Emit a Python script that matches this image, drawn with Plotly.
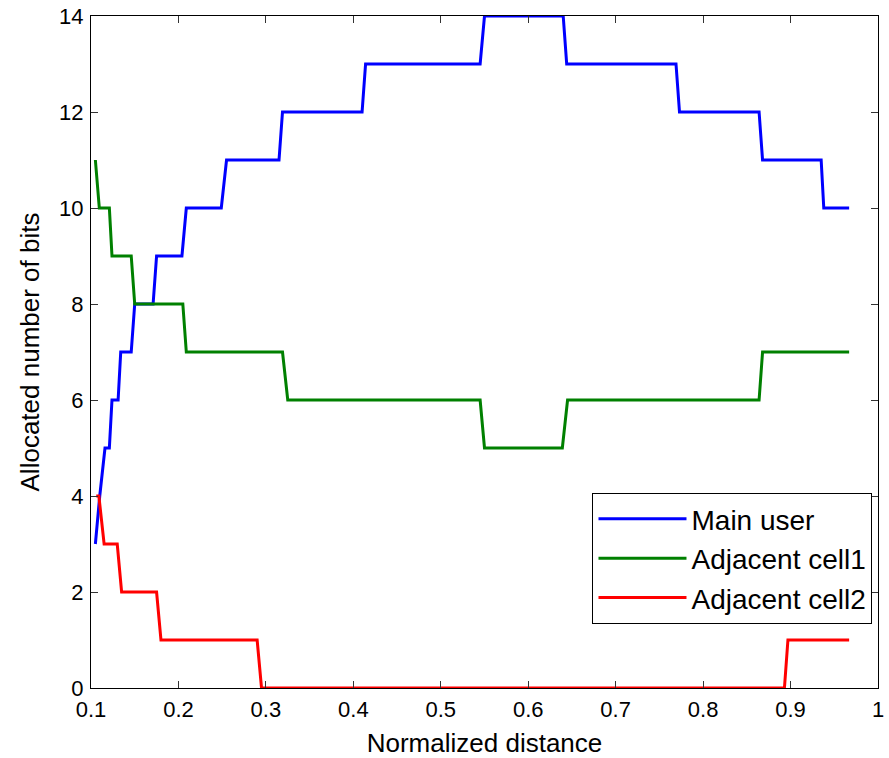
import plotly.graph_objects as go

# Step vertices
main_x = [0.105, 0.110, 0.116, 0.121, 0.124, 0.131, 0.134, 0.146, 0.150, 0.171,
          0.175, 0.204, 0.209, 0.249, 0.255, 0.315, 0.319, 0.410, 0.414, 0.545,
          0.550, 0.640, 0.644, 0.769, 0.773, 0.864, 0.868, 0.935, 0.938, 0.967]
main_y = [3, 4, 5, 5, 6, 6, 7, 7, 8, 8,
          9, 9, 10, 10, 11, 11, 12, 12, 13, 13,
          14, 14, 13, 13, 12, 12, 11, 11, 10, 10]

adj1_x = [0.105, 0.1095, 0.121, 0.124, 0.146, 0.150, 0.205, 0.209, 0.319, 0.325,
          0.545, 0.550, 0.639, 0.645, 0.864, 0.868, 0.967]
adj1_y = [11, 10, 10, 9, 9, 8, 8, 7, 7, 6,
          6, 5, 5, 6, 6, 7, 7]

adj2_x = [0.106, 0.109, 0.115, 0.130, 0.135, 0.175, 0.180, 0.290, 0.295, 0.893,
          0.897, 0.967]
adj2_y = [4, 4, 3, 3, 2, 2, 1, 1, 0, 0,
          1, 1]

x_tickvals = [0.1, 0.2, 0.3, 0.4, 0.5, 0.6, 0.7, 0.8, 0.9, 1.0]
x_ticktext = ["0.1", "0.2", "0.3", "0.4", "0.5", "0.6", "0.7", "0.8", "0.9", "1"]
y_tickvals = [0, 2, 4, 6, 8, 10, 12, 14]

FONT = "Liberation Sans, Arial, sans-serif"

fig = go.Figure()
for name, xs, ys, col in [("Main user", main_x, main_y, "#0000FF"),
                          ("Adjacent cell1", adj1_x, adj1_y, "#008000"),
                          ("Adjacent cell2", adj2_x, adj2_y, "#FF0000")]:
    fig.add_trace(go.Scatter(x=xs, y=ys, mode="lines", name=name,
                             line=dict(color=col, width=3),
                             cliponaxis=False))

axis_common = dict(
    showgrid=False, zeroline=False, showline=True, linecolor="black",
    linewidth=1, mirror="ticks", ticks="inside", ticklen=7,
    tickcolor="#333333", tickwidth=1, automargin=False,
    tickfont=dict(family=FONT, size=22, color="black"),
)

fig.update_xaxes(range=[0.1, 1.0], tickvals=x_tickvals, ticktext=x_ticktext,
                 ticklabelstandoff=2,
                 title=dict(text="Normalized distance",
                            font=dict(family=FONT, size=26, color="black"),
                            standoff=12),
                 **axis_common)
fig.update_yaxes(range=[0, 14], tickvals=y_tickvals,
                 ticklabelstandoff=2,
                 title=dict(text="Allocated number of bits",
                            font=dict(family=FONT, size=26, color="black"),
                            standoff=12),
                 **axis_common)

fig.update_layout(
    width=889, height=758,
    margin=dict(l=91, r=11, t=16, b=70),
    plot_bgcolor="white", paper_bgcolor="white",
    font=dict(family=FONT, color="black"),
    legend=dict(x=0.993, y=0.29, xanchor="right", yanchor="top",
                bgcolor="white", bordercolor="black", borderwidth=1,
                font=dict(family=FONT, size=28, color="black"),
                itemwidth=88),
)

fig.write_html("out.html")
